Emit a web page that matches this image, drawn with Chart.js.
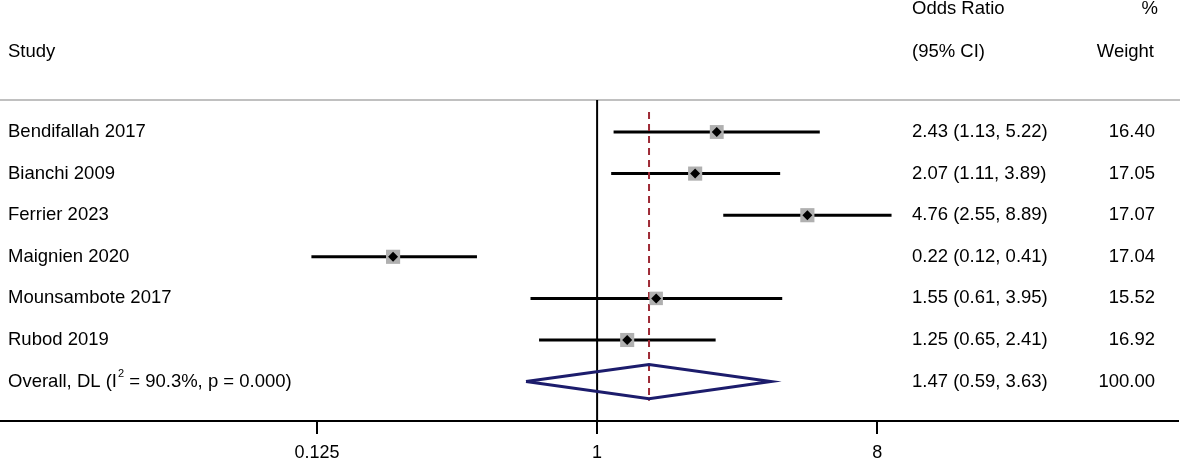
<!DOCTYPE html>
<html>
<head>
<meta charset="utf-8">
<script src="https://cdn.jsdelivr.net/npm/chart.js@4/dist/chart.umd.min.js"></script>
<style>
  html, body { margin: 0; padding: 0; background: #fff; }
  #wrap { width: 1181px; height: 461px; position: relative; }
</style>
</head>
<body>
<div id="wrap"><canvas id="forest"></canvas></div>
<script>
// study level data
const studies = ['Bendifallah 2017', 'Bianchi 2009', 'Ferrier 2023', 'Maignien 2020', 'Mounsambote 2017', 'Rubod 2019']
const oddsRatios = [2.43, 2.07, 4.76, 0.22, 1.55, 1.25]
const ciLows = [1.13, 1.11, 2.55, 0.12, 0.61, 0.65]
const ciHighs = [5.22, 3.89, 8.89, 0.41, 3.95, 2.41]
const weights = [16.40, 17.05, 17.07, 17.04, 15.52, 16.92]

// pooled estimate
const overallOR = 1.47
const overallLow = 0.59
const overallHigh = 3.63
const overallWeight = 100.00
const iSquared = '90.3%'
const pValue = '0.000'

const xTicks = [0.125, 1, 8]

const FONT = 'Arial, "Liberation Sans", sans-serif'
const overallRow = studies.length + 1
const fmt = v => v.toFixed(2)

const ciDatasets = studies.map((name, i) => ({
  type: 'line',
  data: [{ x: ciLows[i], y: i + 1 }, { x: ciHighs[i], y: i + 1 }],
  borderColor: '#000',
  borderWidth: 3,
  pointRadius: 0,
  order: 5
}))

const maxWeight = Math.max(...weights)

const textPlugin = {
  id: 'forestText',
  beforeDatasetsDraw(chart) {
    const { ctx, scales: { y }, width } = chart
    const yy = y.getPixelForValue(0.23)
    ctx.save()
    ctx.strokeStyle = '#c0c0c0'
    ctx.lineWidth = 2
    ctx.beginPath()
    ctx.moveTo(0, yy)
    ctx.lineTo(width - 1, yy)
    ctx.stroke()
    ctx.restore()
  },
  afterDraw(chart) {
    const { ctx, scales: { y } } = chart
    ctx.save()
    ctx.fillStyle = '#000'
    ctx.font = `18.5px ${FONT}`
    ctx.textBaseline = 'middle'

    const leftX = 8
    const ciX = 912
    const wX = 1155

    // headers
    ctx.textAlign = 'left'
    ctx.fillText('Study', leftX, y.getPixelForValue(-0.93))
    ctx.fillText('Odds Ratio', ciX, y.getPixelForValue(-1.95))
    ctx.fillText('(95% CI)', ciX, y.getPixelForValue(-0.93))
    ctx.textAlign = 'right'
    ctx.fillText('%', wX + 3, y.getPixelForValue(-1.95))
    ctx.fillText('Weight', wX - 1, y.getPixelForValue(-0.93))

    studies.forEach((name, i) => {
      const py = y.getPixelForValue(i + 1)
      ctx.textAlign = 'left'
      ctx.fillText(name, leftX, py)
      ctx.fillText(`${fmt(oddsRatios[i])} (${fmt(ciLows[i])}, ${fmt(ciHighs[i])})`, ciX, py)
      ctx.textAlign = 'right'
      ctx.fillText(fmt(weights[i]), wX, py)
    })

    // overall row with superscript
    const py = y.getPixelForValue(overallRow)
    ctx.textAlign = 'left'
    const part1 = 'Overall, DL (I'
    ctx.fillText(part1, leftX, py)
    let x = leftX + ctx.measureText(part1).width
    ctx.font = `11px ${FONT}`
    ctx.fillText('2', x + 1, py - 8)
    x += ctx.measureText('2').width + 1
    ctx.font = `18.5px ${FONT}`
    ctx.fillText(` = ${iSquared}, p = ${pValue})`, x, py)
    ctx.fillText(`${fmt(overallOR)} (${fmt(overallLow)}, ${fmt(overallHigh)})`, ciX, py)
    ctx.textAlign = 'right'
    ctx.fillText(fmt(overallWeight), wX, py)
    ctx.restore()
  }
}

const forestChart = new Chart(document.getElementById('forest'), {
  type: 'scatter',
  data: {
    datasets: [
      {
        // point estimate markers
        data: oddsRatios.map((v, i) => ({ x: v, y: i + 1 })),
        pointStyle: 'rectRot',
        pointRadius: 5,
        backgroundColor: '#000',
        borderWidth: 0,
        order: 0
      },
      {
        // weight boxes
        data: oddsRatios.map((v, i) => ({ x: v, y: i + 1 })),
        pointStyle: 'rect',
        pointRadius: weights.map(w => 10 * Math.sqrt(w / maxWeight)),
        backgroundColor: '#b0b0b0',
        borderWidth: 0,
        order: 1
      },
      ...ciDatasets,
      {
        // pooled diamond
        type: 'line',
        data: [
          { x: overallLow, y: overallRow },
          { x: overallOR, y: overallRow - 0.41 },
          { x: overallHigh, y: overallRow },
          { x: overallOR, y: overallRow + 0.41 },
          { x: overallLow, y: overallRow }
        ],
        borderColor: '#1c1c6c',
        borderWidth: 3,
        pointRadius: 0,
        tension: 0,
        order: 2
      },
      {
        // pooled estimate reference
        type: 'line',
        data: [{ x: overallOR, y: 0.52 }, { x: overallOR, y: 7.46 }],
        borderColor: '#9e2a36',
        borderWidth: 2,
        borderDash: [7, 5],
        pointRadius: 0,
        order: 3
      },
      {
        // no-effect line
        type: 'line',
        data: [{ x: 1, y: 0.23 }, { x: 1, y: 8.2 }],
        borderColor: '#000',
        borderWidth: 2,
        pointRadius: 0,
        order: 6
      }
    ]
  },
  options: {
    responsive: true,
    maintainAspectRatio: false,
    animation: false,
    layout: { padding: { right: 3 }, autoPadding: false },
    plugins: {
      legend: { display: false },
      tooltip: { enabled: false }
    },
    scales: {
      x: {
        type: 'logarithmic',
        min: 0.0119,
        max: 74.5,
        afterBuildTicks: scale => {
          scale.ticks = xTicks.map(v => ({ value: v }))
        },
        afterFit: scale => {
          scale.height = 40
        },
        ticks: {
          color: '#000',
          font: { family: FONT, size: 18 },
          padding: 8,
          maxRotation: 0,
          autoSkip: false,
          callback: v => String(v)
        },
        grid: {
          drawOnChartArea: false,
          drawTicks: true,
          tickLength: 13,
          color: '#000',
          lineWidth: 2
        },
        border: { display: true, color: '#000', width: 2 }
      },
      y: {
        display: false,
        reverse: true,
        min: -2.173,
        max: 7.947
      }
    }
  },
  plugins: [textPlugin]
})
</script>
</body>
</html>
